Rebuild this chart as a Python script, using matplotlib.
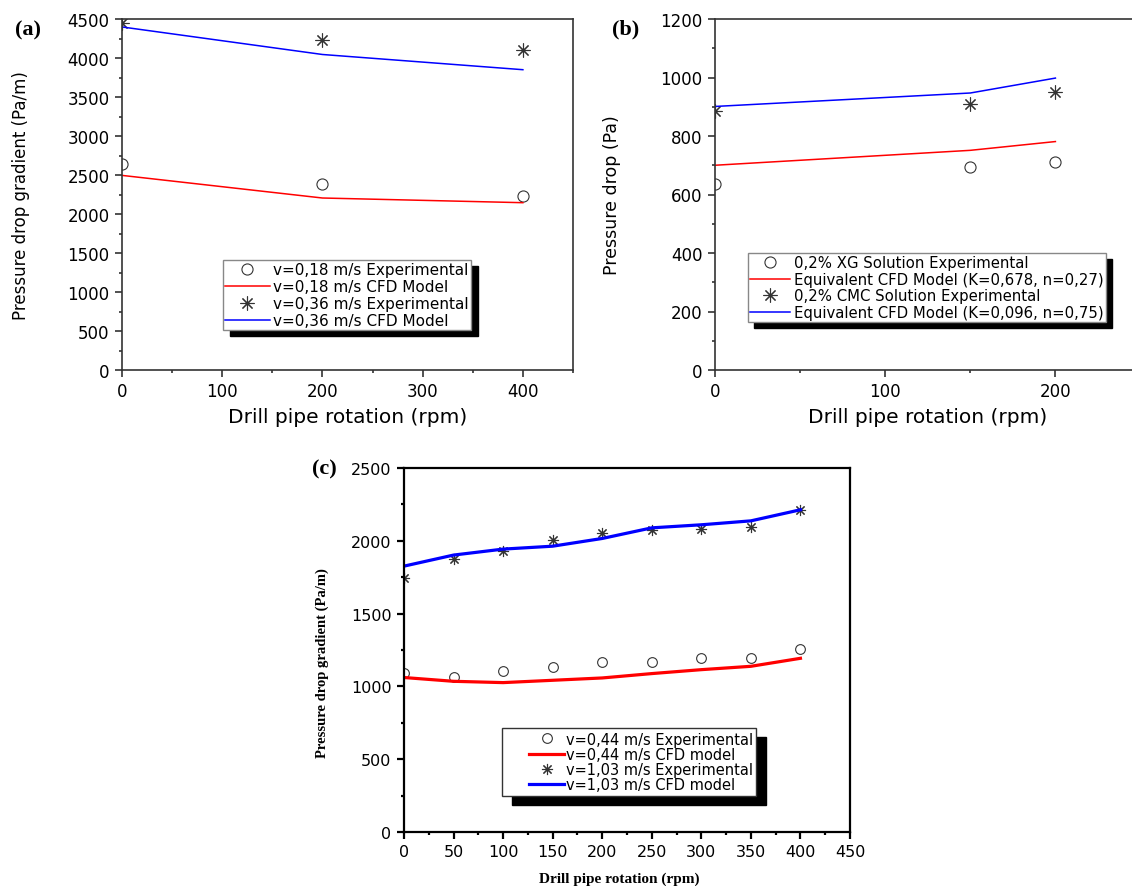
import numpy as np
import matplotlib
matplotlib.use('Agg')
import matplotlib.pyplot as plt
from matplotlib.lines import Line2D
from matplotlib.legend_handler import HandlerLine2D
from matplotlib.ticker import MultipleLocator

# ---------------------------------------------------------------------------
# Data
# ---------------------------------------------------------------------------
# (a) pressure drop gradient vs rotation, two velocities
rpm_a = [0, 200, 400]
exp_a_018 = [2635, 2380, 2235]
cfd_a_018 = [2495, 2205, 2145]
exp_a_036 = [4455, 4228, 4098]
cfd_a_036 = [4398, 4045, 3850]

# (b) pressure drop vs rotation, two polymer solutions
rpm_b = [0, 150, 200]
exp_b_xg = [635, 693, 712]
cfd_b_xg = [700, 751, 781]
exp_b_cmc = [887, 909, 949]
cfd_b_cmc = [901, 947, 998]

# (c) pressure drop gradient vs rotation, two velocities
rpm_c = [0, 50, 100, 150, 200, 250, 300, 350, 400]
exp_c_044 = [1093, 1067, 1109, 1136, 1170, 1170, 1193, 1193, 1259]
cfd_c_044 = [1061, 1035, 1026, 1042, 1058, 1088, 1115, 1138, 1193]
exp_c_103 = [1742, 1874, 1927, 2005, 2057, 2073, 2080, 2094, 2213]
cfd_c_103 = [1826, 1902, 1943, 1963, 2016, 2089, 2110, 2137, 2213]

labels_a = ['v=0,18 m/s Experimental', 'v=0,18 m/s CFD Model',
            'v=0,36 m/s Experimental', 'v=0,36 m/s CFD Model']
labels_b = ['0,2% XG Solution Experimental',
            'Equivalent CFD Model (K=0,678, n=0,27)',
            '0,2% CMC Solution Experimental',
            'Equivalent CFD Model (K=0,096, n=0,75)']
labels_c = ['v=0,44 m/s Experimental', 'v=0,44 m/s CFD model',
            'v=1,03 m/s Experimental', 'v=1,03 m/s CFD model']

# ---------------------------------------------------------------------------
# Style
# ---------------------------------------------------------------------------
RED = '#ff0000'
BLUE = '#0000ff'
MK = '#333333'
STAR = (8, 2, 0)          # asterisk with 8 spokes
SERIF = 'Liberation Serif'

W, H = 1132, 887


def px_axes(x0, y0, x1, y1):
    """Axes rectangle from pixel corners (top-left origin)."""
    return [x0 / W, 1 - y1 / H, (x1 - x0) / W, (y1 - y0) / H]


class ShortLine(HandlerLine2D):
    """Legend line drawn only over the right part of the handle box."""
    def __init__(self, start=0.0, **kw):
        super().__init__(**kw)
        self.start = start

    def get_xdata(self, legend, xdescent, ydescent, width, height, fontsize):
        x0 = -xdescent + self.start * width
        x1 = -xdescent + width
        return np.array([x0, x1]), np.array([(x0 + x1) / 2])


def style_axes(ax, spine_w, spine_c, tick_fs):
    for s in ax.spines.values():
        s.set_linewidth(spine_w)
        s.set_color(spine_c)
    ax.tick_params(which='both', direction='out', top=False, right=False,
                   width=spine_w, color=spine_c, labelsize=tick_fs, pad=4)
    ax.tick_params(which='major', length=5)
    ax.tick_params(which='minor', length=2.5)


fig = plt.figure(figsize=(W / 100, H / 100), dpi=100)

# ---------------------------------------------------------------------------
# (a)
# ---------------------------------------------------------------------------
ax = fig.add_axes(px_axes(122, 20, 573, 371))
ax.plot(rpm_a, exp_a_018, ls='none', marker='o', ms=8, mfc='none', mec=MK, mew=0.8)
ax.plot(rpm_a, cfd_a_018, color=RED, lw=1.1)
ax.plot(rpm_a, exp_a_036, ls='none', marker=STAR, ms=10, color=MK, mew=0.8)
ax.plot(rpm_a, cfd_a_036, color=BLUE, lw=1.1)
ax.set_xlim(0, 450)
ax.set_ylim(0, 4500)
ax.xaxis.set_major_locator(MultipleLocator(100))
ax.xaxis.set_minor_locator(MultipleLocator(50))
ax.yaxis.set_major_locator(MultipleLocator(500))
ax.yaxis.set_minor_locator(MultipleLocator(250))
style_axes(ax, 1.2, '#333333', 12)
ax.set_xticks([0, 100, 200, 300, 400])
ax.set_xlabel('Drill pipe rotation (rpm)', fontsize=14.5)
ax.set_ylabel('Pressure drop gradient (Pa/m)', fontsize=12)
ax.xaxis.set_label_coords(0.5, -0.105)
ax.yaxis.set_label_coords(-0.205, 0.5)
leg = ax.legend(ax.get_lines(), labels_a, loc='upper left',
                bbox_to_anchor=(0.224, 0.313), borderaxespad=0,
                fontsize=11, labelspacing=0.12, borderpad=0.15,
                handlelength=2.9, handletextpad=0.25, numpoints=1,
                fancybox=False, edgecolor='#888888',
                shadow={'ox': 5, 'oy': -4, 'color': 'k', 'alpha': 1})
leg.get_frame().set_linewidth(1.0)

# ---------------------------------------------------------------------------
# (b)
# ---------------------------------------------------------------------------
ax = fig.add_axes(px_axes(715, 20, 1132, 371))
ax.plot(rpm_b, exp_b_xg, ls='none', marker='o', ms=8, mfc='none', mec=MK, mew=0.8)
ax.plot(rpm_b, cfd_b_xg, color=RED, lw=1.1)
ax.plot(rpm_b, exp_b_cmc, ls='none', marker=STAR, ms=10, color=MK, mew=0.8)
ax.plot(rpm_b, cfd_b_cmc, color=BLUE, lw=1.1)
ax.set_xlim(0, 245)
ax.set_ylim(0, 1200)
ax.xaxis.set_major_locator(MultipleLocator(100))
ax.xaxis.set_minor_locator(MultipleLocator(50))
ax.yaxis.set_major_locator(MultipleLocator(200))
ax.yaxis.set_minor_locator(MultipleLocator(100))
style_axes(ax, 1.2, '#333333', 12)
ax.spines['right'].set_visible(False)
ax.set_xlabel('Drill pipe rotation (rpm)', fontsize=14.5)
ax.set_ylabel('Pressure drop (Pa)', fontsize=12.5)
ax.xaxis.set_label_coords(0.51, -0.105)
ax.yaxis.set_label_coords(-0.225, 0.5)
leg = ax.legend(ax.get_lines(), labels_b, loc='upper left',
                bbox_to_anchor=(0.079, 0.333), borderaxespad=0,
                fontsize=10.7, labelspacing=0.1, borderpad=0.15,
                handlelength=2.7, handletextpad=0.25, numpoints=1,
                fancybox=False, edgecolor='#888888',
                shadow={'ox': 4.5, 'oy': -4, 'color': 'k', 'alpha': 1})
leg.get_frame().set_linewidth(1.0)

# ---------------------------------------------------------------------------
# (c)
# ---------------------------------------------------------------------------
ax = fig.add_axes(px_axes(404, 469, 850, 833))
ax.plot(rpm_c, exp_c_044, ls='none', marker='o', ms=7, mfc='none', mec=MK, mew=0.8)
ax.plot(rpm_c, cfd_c_044, color=RED, lw=2.3)
ax.plot(rpm_c, exp_c_103, ls='none', marker=STAR, ms=8, color=MK, mew=0.8)
ax.plot(rpm_c, cfd_c_103, color=BLUE, lw=2.3)
ax.set_xlim(0, 450)
ax.set_ylim(0, 2500)
ax.xaxis.set_major_locator(MultipleLocator(50))
ax.xaxis.set_minor_locator(MultipleLocator(25))
ax.yaxis.set_major_locator(MultipleLocator(500))
ax.yaxis.set_minor_locator(MultipleLocator(250))
style_axes(ax, 1.6, 'black', 11.5)
ax.set_xlabel('Drill pipe rotation (rpm)', fontsize=11, family=SERIF,
              fontweight='bold')
ax.set_ylabel('Pressure drop gradient (Pa/m)', fontsize=10.5, family=SERIF,
              fontweight='bold')
ax.xaxis.set_label_coords(0.482, -0.108)
ax.yaxis.set_label_coords(-0.168, 0.467)
leg = ax.legend(ax.get_lines(), labels_c, loc='upper left',
                bbox_to_anchor=(0.22, 0.286), borderaxespad=0,
                fontsize=10.5, labelspacing=0.02, borderpad=0.25,
                handlelength=4.0, handletextpad=0.1, numpoints=1,
                fancybox=False, edgecolor='#333333',
                handler_map={Line2D: ShortLine(start=0.4)},
                shadow={'ox': 7, 'oy': -6.5, 'color': 'k', 'alpha': 1})
leg.get_frame().set_linewidth(1.0)

# ---------------------------------------------------------------------------
# Panel letters
# ---------------------------------------------------------------------------
for s, x, y in [('(a)', 28, 30), ('(b)', 626, 29), ('(c)', 324, 469)]:
    fig.text(x / W, 1 - y / H, s, family=SERIF, fontweight='bold',
             fontsize=16, ha='center', va='center')

fig.savefig('out.png', dpi=100, facecolor='white')
